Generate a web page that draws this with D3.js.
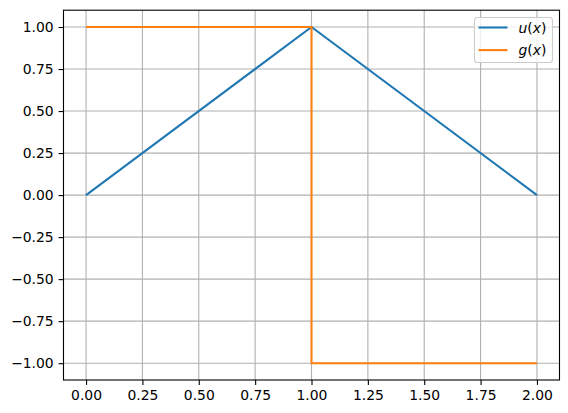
<!DOCTYPE html>
<html>
<head>
<meta charset="utf-8">
<script src="https://cdn.jsdelivr.net/npm/d3@7"></script>
<style>
  body { margin: 0; background: #fff; }
  svg text { font-family: "DejaVu Sans", sans-serif; font-size: 13.9px; }
</style>
</head>
<body>
<div id="chart"></div>
<script>
// data
var uX = [0, 1, 2]
var uY = [0, 1, 0]
var gX = [0, 1, 1, 2]
var gY = [1, 1, -1, -1]
var xTicks = [0, 0.25, 0.5, 0.75, 1, 1.25, 1.5, 1.75, 2]
var yTicks = [-1, -0.75, -0.5, -0.25, 0, 0.25, 0.5, 0.75, 1]
var seriesNames = ['u', 'g']
var seriesColors = ['#1f77b4', '#ff7f0e']

var W = 568, H = 413
var margin = {left: 63.5, right: 8.5, top: 10.2, bottom: 33}
var width = W - margin.left - margin.right
var height = H - margin.top - margin.bottom

var svg = d3.select('#chart').append('svg')
  .attr('width', W).attr('height', H)
var g = svg.append('g')
  .attr('transform', 'translate(' + margin.left + ',' + margin.top + ')')

var x = d3.scaleLinear().domain([-0.1, 2.1]).range([0, width])
var y = d3.scaleLinear().domain([-1.1, 1.1]).range([height, 0])

var fmt = function(d){ return d3.format('.2f')(d).replace('-', '\u2212') }

// grid
g.append('g').selectAll('line').data(xTicks).enter().append('line')
  .attr('x1', d => x(d)).attr('x2', d => x(d))
  .attr('y1', 0).attr('y2', height)
  .attr('stroke', '#b0b0b0').attr('stroke-width', 1.1)
g.append('g').selectAll('line').data(yTicks).enter().append('line')
  .attr('y1', d => y(d)).attr('y2', d => y(d))
  .attr('x1', 0).attr('x2', width)
  .attr('stroke', '#b0b0b0').attr('stroke-width', 1.1)

// lines
var line = d3.line().x(d => x(d[0])).y(d => y(d[1]))
var series = [d3.zip(uX, uY), d3.zip(gX, gY)]
series.forEach(function(s, i){
  g.append('path').datum(s)
    .attr('d', line)
    .attr('fill', 'none')
    .attr('stroke', seriesColors[i])
    .attr('stroke-width', 2.08)
})

// axes
var xAxis = d3.axisBottom(x).tickValues(xTicks).tickFormat(fmt).tickSize(4.9).tickPadding(4.9)
var yAxis = d3.axisLeft(y).tickValues(yTicks).tickFormat(fmt).tickSize(4.9).tickPadding(4.9)
var gx = g.append('g').attr('transform', 'translate(0,' + height + ')').call(xAxis)
var gy = g.append('g').call(yAxis)
;[gx, gy].forEach(function(a){
  a.attr('font-size', null).attr('font-family', null)
  a.select('.domain').remove()
  a.selectAll('line').attr('stroke', '#000').attr('stroke-width', 1.1)
  a.selectAll('text').style('font-size', '13.9px').attr('fill', '#000')
})

// frame
g.append('rect').attr('x', 0).attr('y', 0).attr('width', width).attr('height', height)
  .attr('fill', 'none').attr('stroke', '#000').attr('stroke-width', 1.1)

// legend
var lg = svg.append('g').attr('transform', 'translate(474.5,17.5)')
lg.append('rect').attr('width', 78).attr('height', 45).attr('rx', 3)
  .attr('fill', '#fff').attr('fill-opacity', 0.8)
  .attr('stroke', '#cccccc').attr('stroke-width', 1.1)
seriesNames.forEach(function(n, i){
  var row = lg.append('g').attr('transform', 'translate(0,' + (10 + i * 22.6) + ')')
  row.append('line').attr('x1', 4).attr('x2', 33)
    .attr('stroke', seriesColors[i]).attr('stroke-width', 2.08)
  var t = row.append('text').attr('x', 44).attr('y', 5).style('font-size', '13.9px')
  t.append('tspan').attr('font-style', 'italic').text(n)
  t.append('tspan').text('(')
  t.append('tspan').attr('font-style', 'italic').text('x')
  t.append('tspan').text(')')
})
</script>
</body>
</html>
